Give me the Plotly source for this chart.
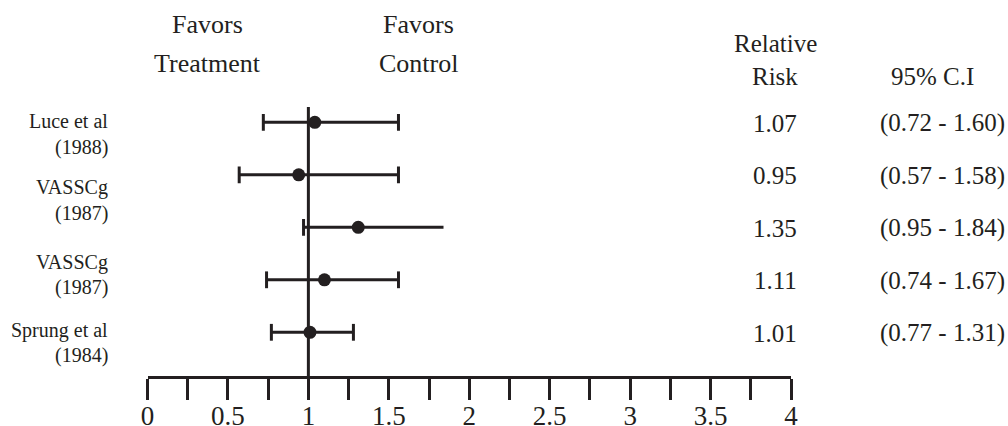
import plotly.graph_objects as go

# ---------------- data ----------------
rows = [0, 1, 2, 3, 4]                      # row order, top to bottom
rr_plot = [1.04, 0.94, 1.31, 1.10, 1.01]     # plotted point estimates
ci_low = [0.72, 0.57, 0.97, 0.74, 0.77]      # plotted lower CI bounds
ci_high = [1.56, 1.56, 1.84, 1.56, 1.28]     # plotted upper CI bounds
upper_cap = [True, True, False, True, True]  # row 3 drawn without an upper cap

rr_text = ["1.07", "0.95", "1.35", "1.11", "1.01"]
ci_text = ["(0.72 - 1.60)", "(0.57 - 1.58)", "(0.95 - 1.84)", "(0.74 - 1.67)", "(0.77 - 1.31)"]

studies = ["Luce et al", "VASSCg", "VASSCg", "Sprung et al"]
years = ["(1988)", "(1987)", "(1987)", "(1984)"]

tick_vals = [0, 0.25, 0.5, 0.75, 1, 1.25, 1.5, 1.75, 2, 2.25, 2.5, 2.75, 3, 3.25, 3.5, 3.75, 4]
tick_text = ["0", "", "0.5", "", "1", "", "1.5", "", "2", "", "2.5", "", "3", "", "3.5", "", "4"]

# ---------------- style / layout ----------------
INK = "#231f20"
FONT = "Liberation Serif"
W, H = 1008, 426

x0px, x4px = 147.5, 791.0
top_px, axis_px = 107.0, 376.0
row0_px, row_step = 122.3, 52.5

# label pixel positions (centre y)
name_py = [121.5, 187, 262, 330]
year_py = [147, 213, 287, 355]

fig = go.Figure()

# CI lines
cx, cy = [], []
for k, lo, hi in zip(rows, ci_low, ci_high):
    cx += [lo, hi, None]
    cy += [k, k, None]
fig.add_trace(go.Scatter(x=cx, y=cy, mode="lines",
                         line=dict(color=INK, width=3), hoverinfo="skip", showlegend=False))

# caps
capx, capy = [], []
for k, lo, hi, uc in zip(rows, ci_low, ci_high, upper_cap):
    capx.append(lo); capy.append(k)
    if uc:
        capx.append(hi); capy.append(k)
fig.add_trace(go.Scatter(x=capx, y=capy, mode="markers",
                         marker=dict(symbol="line-ns", size=12, line=dict(color=INK, width=3)),
                         hoverinfo="skip", showlegend=False))

# point estimates
fig.add_trace(go.Scatter(x=rr_plot, y=rows, mode="markers",
                         marker=dict(color=INK, size=13), showlegend=False))

# reference line at RR = 1
fig.add_shape(type="line", xref="x", yref="y domain", x0=1, x1=1, y0=0, y1=1,
              line=dict(color=INK, width=3))

ann = []
def txt(px, py, s, size, xanchor="center"):
    ann.append(dict(x=px / W, y=1 - py / H, xref="paper", yref="paper", text=s,
                    showarrow=False, xanchor=xanchor, yanchor="middle",
                    font=dict(family=FONT, size=size, color=INK)))

# headers
txt(207, 25, "Favors", 26)
txt(207, 63, "Treatment", 26)
txt(418, 25, "Favors", 26)
txt(418, 63, "Control", 26)
txt(775, 43, "Relative", 25)
txt(775, 76, "Risk", 25)
txt(932, 76, "95% C.I", 25)

# right columns
for k, r, c in zip(rows, rr_text, ci_text):
    py = row0_px + row_step * k + 1
    txt(775, py, r, 25)
    txt(942, py, c, 25)

# left study labels
for s, y, ny, yy in zip(studies, years, name_py, year_py):
    txt(110, ny, s, 20, xanchor="right")
    txt(110, yy, y, 20, xanchor="right")

fig.update_layout(
    width=W, height=H,
    margin=dict(l=0, r=0, t=0, b=0, pad=0),
    paper_bgcolor="white", plot_bgcolor="white",
    annotations=ann,
    xaxis=dict(domain=[x0px / W, x4px / W], range=[0, 4], automargin=False,
               showgrid=False, zeroline=False,
               showline=True, linewidth=3, linecolor=INK,
               ticks="outside", ticklen=21, tickwidth=3, tickcolor=INK,
               tickvals=tick_vals, ticktext=tick_text, ticklabelstandoff=-7,
               tickfont=dict(family=FONT, size=27, color=INK)),
    yaxis=dict(domain=[(H - axis_px) / H, (H - top_px) / H], automargin=False,
               range=[(axis_px - row0_px) / row_step, (top_px - row0_px) / row_step],
               showgrid=False, zeroline=False, showline=False,
               showticklabels=False, ticks=""),
)

fig.write_html(
    "out.html",
    config={"displayModeBar": False},
    post_script=("document.body.style.margin='0';"
                 "document.body.style.overflow='hidden';"
                 "document.documentElement.style.overflow='hidden';"),
)
